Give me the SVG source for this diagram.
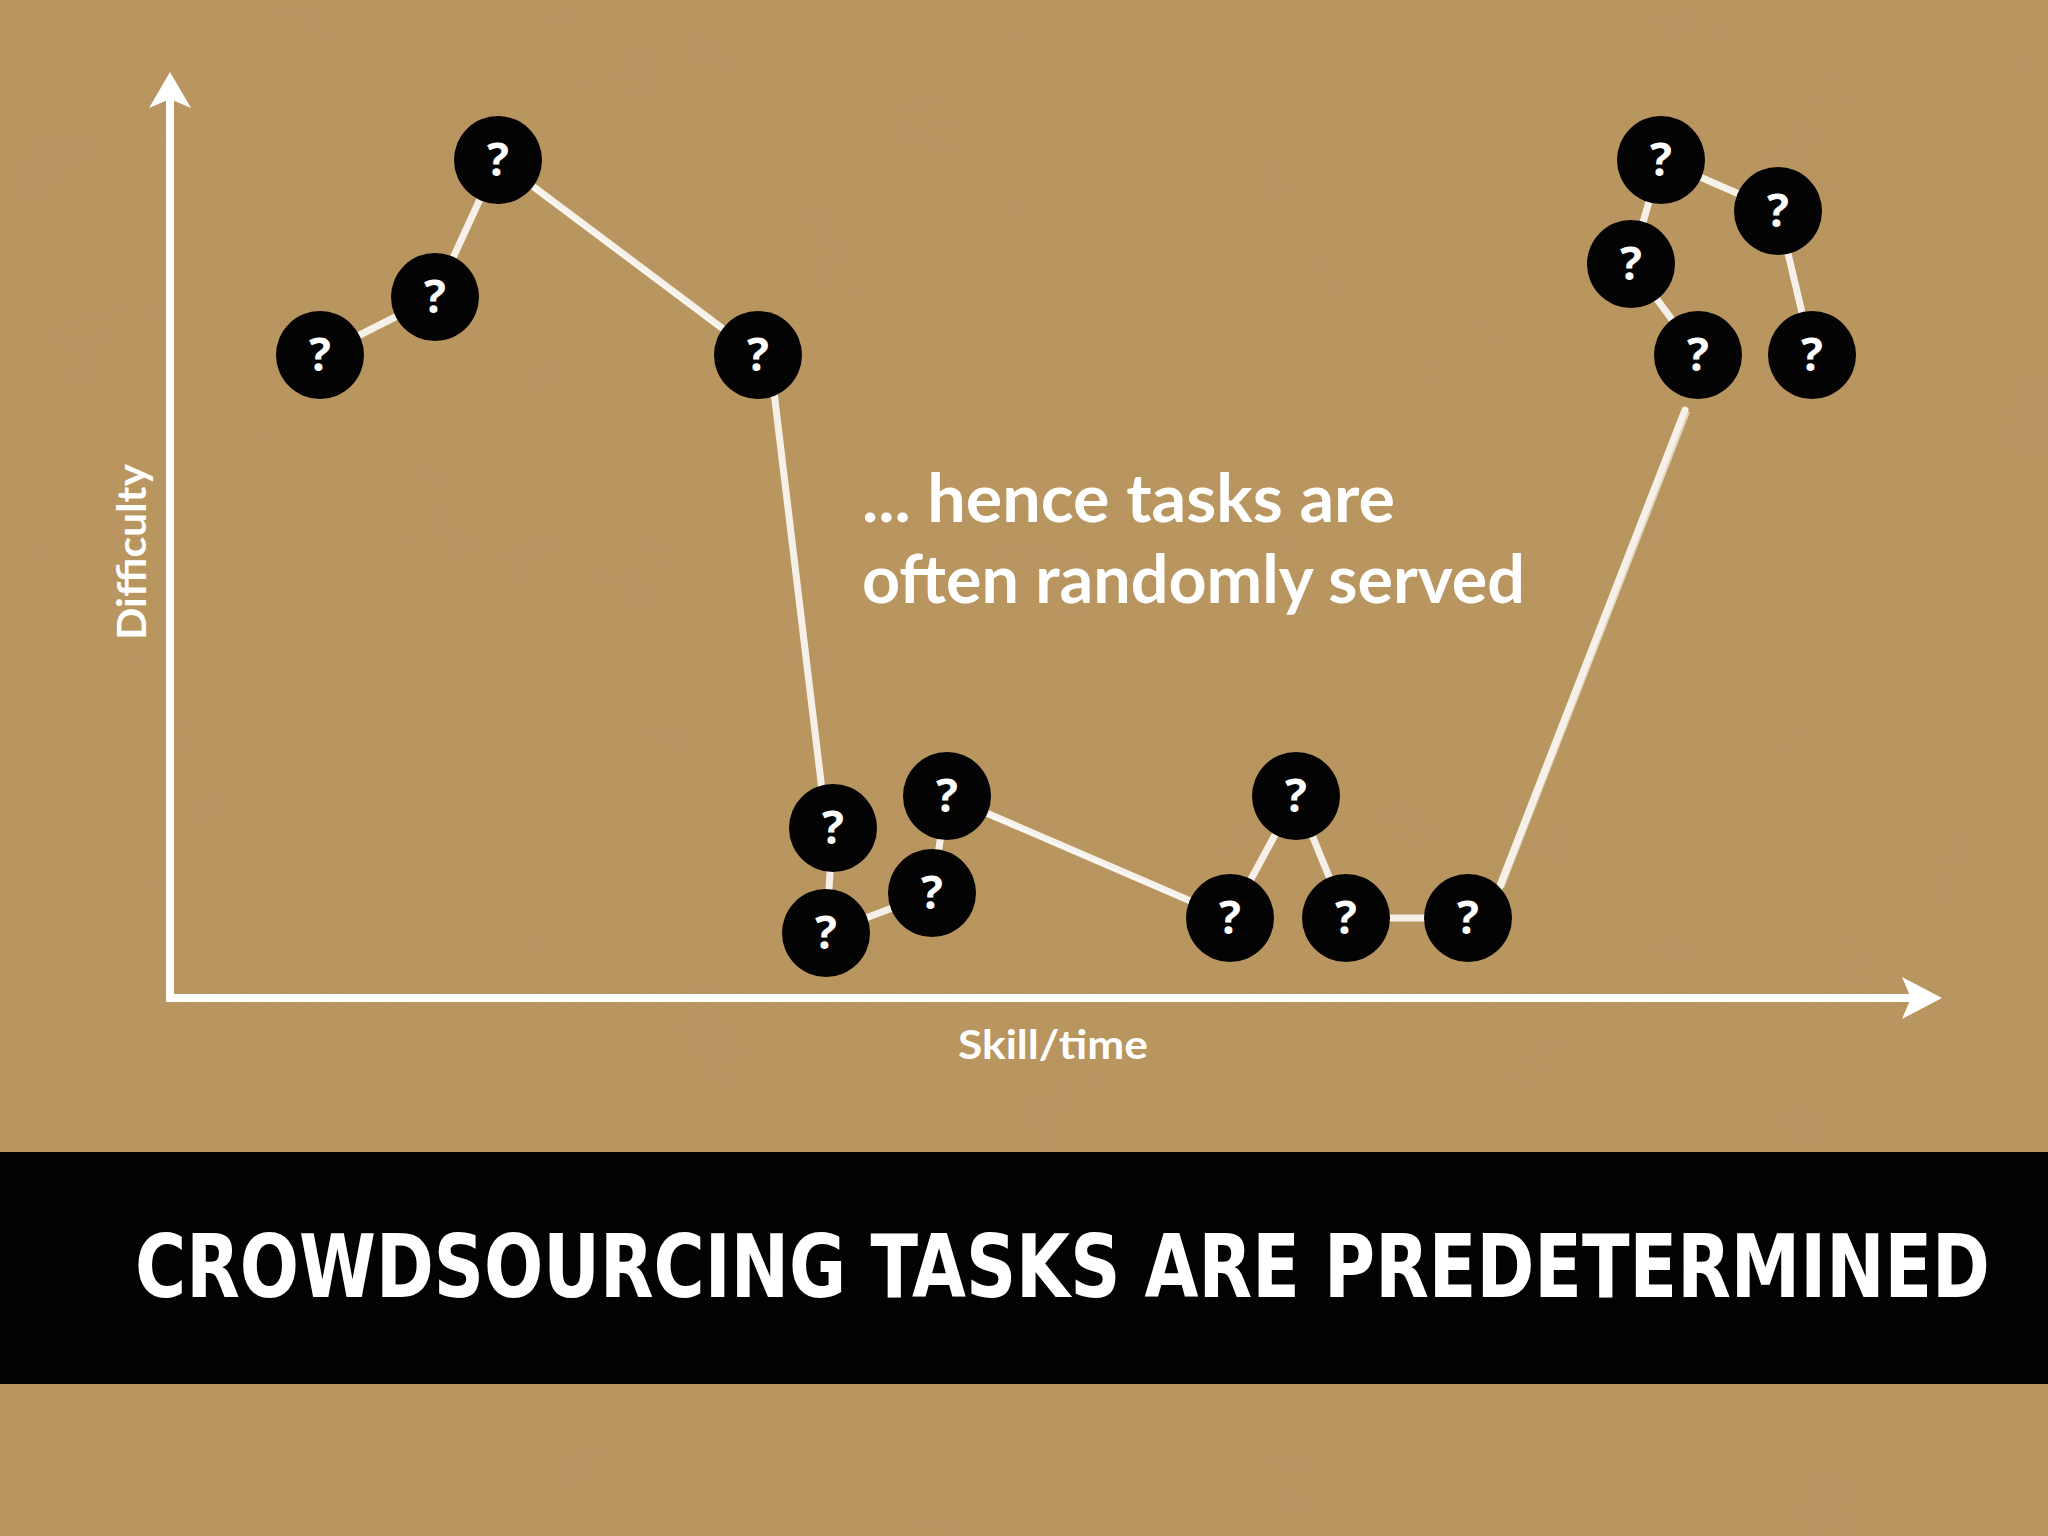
<svg xmlns="http://www.w3.org/2000/svg" width="2048" height="1536" viewBox="0 0 2048 1536">
<defs>
<filter id="paper" x="0" y="0" width="100%" height="100%">
<feTurbulence type="fractalNoise" baseFrequency="0.008" numOctaves="4" seed="3" result="n"/>
<feColorMatrix in="n" type="matrix" values="0 0 0 0 0.45  0 0 0 0 0.33  0 0 0 0 0.15  0 0 0 0.55 -0.2" result="c"/>
<feComposite in="c" in2="SourceGraphic" operator="in"/>
</filter>
<style>
.node circle{fill:#030303}
.node text{fill:#fff;font-family:"Open Sans","DejaVu Sans",sans-serif;font-weight:700;font-size:46px;text-anchor:middle}
.edge{stroke:#fbf8f2;stroke-width:7;stroke-linecap:round;fill:none;opacity:0.93}
.edge2{stroke:#fff;stroke-width:2;fill:none;opacity:0.6}
.axis{stroke:#fff;stroke-width:8;fill:none}
.lbl{fill:#fff;font-family:Lato,"Open Sans",sans-serif;font-weight:700}
</style>
</defs>
<rect x="0" y="0" width="2048" height="1536" fill="#b9955f"/>
<rect x="0" y="0" width="2048" height="1536" fill="#b9955f" filter="url(#paper)" opacity="0.35"/>

<g id="axes">
<line class="axis" x1="170" y1="1002" x2="170" y2="98"/>
<polygon fill="#fff" points="170,72 191,108 170,99 149,108"/>
<line class="axis" x1="166" y1="998" x2="1912" y2="998"/>
<polygon fill="#fff" points="1942,998 1902,1019 1911,998 1902,977"/>
<text class="lbl" font-size="40" text-anchor="middle" transform="translate(146,552) rotate(-90)" textLength="176" lengthAdjust="spacingAndGlyphs">Difficulty</text>
<text class="lbl" font-size="40" x="1053" y="1059" text-anchor="middle" textLength="190" lengthAdjust="spacingAndGlyphs">Skill/time</text>
</g>

<g id="connectors">
<line class="edge" x1="320" y1="355" x2="435" y2="297"/>
<line class="edge" x1="435" y1="297" x2="498" y2="160"/>
<line class="edge" x1="498" y1="160" x2="758" y2="355"/>
<line class="edge" x1="774" y1="392" x2="822" y2="790"/>
<line class="edge" x1="833" y1="828" x2="826" y2="933"/>
<line class="edge" x1="826" y1="933" x2="932" y2="893"/>
<line class="edge" x1="932" y1="893" x2="947" y2="796"/>
<line class="edge" x1="947" y1="796" x2="1230" y2="918"/>
<line class="edge" x1="1230" y1="918" x2="1296" y2="796"/>
<line class="edge" x1="1296" y1="796" x2="1346" y2="918"/>
<line class="edge" x1="1346" y1="918" x2="1468" y2="918"/>
<line class="edge" x1="1499" y1="888" x2="1685" y2="410"/>
<line class="edge" x1="1698" y1="355" x2="1631" y2="264"/>
<line class="edge" x1="1631" y1="264" x2="1661" y2="160"/>
<line class="edge" x1="1661" y1="160" x2="1778" y2="211"/>
<line class="edge" x1="1778" y1="211" x2="1812" y2="355"/>
<line class="edge2" x1="502" y1="166" x2="762" y2="361"/>
<line class="edge2" x1="954" y1="800" x2="1234" y2="922"/>
<line class="edge2" x1="1503" y1="888" x2="1689" y2="412"/>
</g>

<g id="n1" class="node"><circle cx="320" cy="355" r="44"/><text x="320" y="371">?</text></g>
<g id="n2" class="node"><circle cx="435" cy="297" r="44"/><text x="435" y="313">?</text></g>
<g id="n3" class="node"><circle cx="498" cy="160" r="44"/><text x="498" y="176">?</text></g>
<g id="n4" class="node"><circle cx="758" cy="355" r="44"/><text x="758" y="371">?</text></g>
<g id="n5" class="node"><circle cx="833" cy="828" r="44"/><text x="833" y="844">?</text></g>
<g id="n6" class="node"><circle cx="947" cy="796" r="44"/><text x="947" y="812">?</text></g>
<g id="n7" class="node"><circle cx="932" cy="893" r="44"/><text x="932" y="909">?</text></g>
<g id="n8" class="node"><circle cx="826" cy="933" r="44"/><text x="826" y="949">?</text></g>
<g id="n9" class="node"><circle cx="1230" cy="918" r="44"/><text x="1230" y="934">?</text></g>
<g id="n10" class="node"><circle cx="1296" cy="796" r="44"/><text x="1296" y="812">?</text></g>
<g id="n11" class="node"><circle cx="1346" cy="918" r="44"/><text x="1346" y="934">?</text></g>
<g id="n12" class="node"><circle cx="1468" cy="918" r="44"/><text x="1468" y="934">?</text></g>
<g id="n13" class="node"><circle cx="1661" cy="160" r="44"/><text x="1661" y="176">?</text></g>
<g id="n14" class="node"><circle cx="1778" cy="211" r="44"/><text x="1778" y="227">?</text></g>
<g id="n15" class="node"><circle cx="1631" cy="264" r="44"/><text x="1631" y="280">?</text></g>
<g id="n16" class="node"><circle cx="1698" cy="355" r="44"/><text x="1698" y="371">?</text></g>
<g id="n17" class="node"><circle cx="1812" cy="355" r="44"/><text x="1812" y="371">?</text></g>

<g id="caption">
<text class="lbl" font-size="66" x="862" y="522" textLength="533" lengthAdjust="spacingAndGlyphs">... hence tasks are</text>
<text class="lbl" font-size="66" x="862" y="603" textLength="663" lengthAdjust="spacingAndGlyphs">often randomly served</text>
</g>

<g id="title">
<rect x="0" y="1152" width="2048" height="232" fill="#030202"/>
<text transform="translate(135,1297) scale(1,1.12)" x="0" y="0" fill="#fff" font-family="'DejaVu Sans Condensed','DejaVu Sans',sans-serif" font-weight="700" font-size="78" textLength="1855" lengthAdjust="spacingAndGlyphs">CROWDSOURCING TASKS ARE PREDETERMINED</text>
</g>
</svg>
